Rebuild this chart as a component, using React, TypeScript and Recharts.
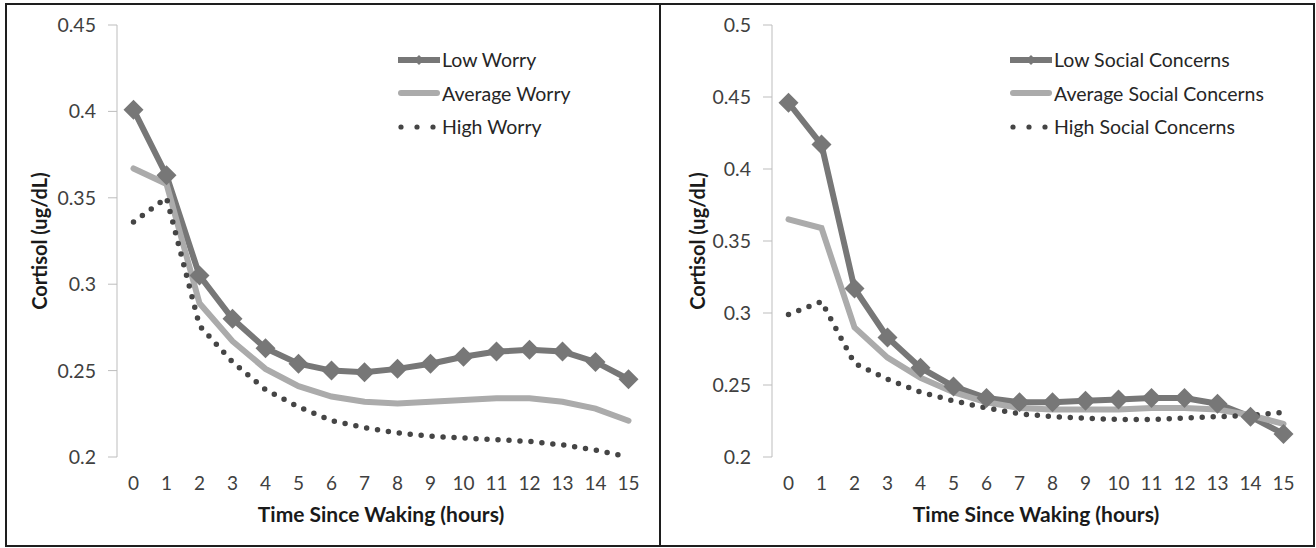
import { LineChart, Line, XAxis, YAxis, Legend } from "recharts";

const hours = [0, 1, 2, 3, 4, 5, 6, 7, 8, 9, 10, 11, 12, 13, 14, 15];

const lowWorry = [0.401, 0.363, 0.305, 0.28, 0.263, 0.254, 0.25, 0.249, 0.251, 0.254, 0.258, 0.261, 0.262, 0.261, 0.255, 0.245];
const avgWorry = [0.367, 0.358, 0.289, 0.267, 0.251, 0.241, 0.235, 0.232, 0.231, 0.232, 0.233, 0.234, 0.234, 0.232, 0.228, 0.221];
const highWorry = [0.336, 0.35, 0.276, 0.255, 0.239, 0.229, 0.221, 0.217, 0.214, 0.212, 0.211, 0.21, 0.209, 0.207, 0.204, 0.2];

const lowSocial = [0.446, 0.417, 0.317, 0.283, 0.262, 0.249, 0.241, 0.238, 0.238, 0.239, 0.24, 0.241, 0.241, 0.237, 0.228, 0.216];
const avgSocial = [0.365, 0.359, 0.29, 0.269, 0.255, 0.245, 0.238, 0.234, 0.233, 0.233, 0.233, 0.234, 0.234, 0.233, 0.229, 0.223];
const highSocial = [0.299, 0.308, 0.265, 0.254, 0.245, 0.239, 0.234, 0.23, 0.228, 0.227, 0.226, 0.226, 0.227, 0.228, 0.229, 0.231];

const worryTicks = [0.2, 0.25, 0.3, 0.35, 0.4, 0.45];
const socialTicks = [0.2, 0.25, 0.3, 0.35, 0.4, 0.45, 0.5];

const LOW = "#777777";
const AVG = "#ababab";
const HIGH = "#454545";
const FONT = "Lato, 'Open Sans', sans-serif";

// tick marks sit between the hour categories, like Excel
const boundaries = [...hours.map((h) => h - 0.5), hours[hours.length - 1] + 0.5];

function renderDiamond(props: any) {
  const { cx, cy, index } = props;
  if (cx == null || cy == null) return <g key={`d-${index}`} />;
  const r = 10;
  return (
    <polygon
      key={`d-${index}`}
      points={`${cx},${cy - r} ${cx + r},${cy} ${cx},${cy + r} ${cx - r},${cy}`}
      fill={LOW}
    />
  );
}

function LegendBox({ labels }: { labels: string[] }) {
  const rowH = 33.5;
  return (
    <div style={{ fontFamily: FONT, fontSize: 19.5, color: "#262626" }}>
      {labels.map((label, i) => (
        <div key={label} style={{ height: rowH, display: "flex", alignItems: "center" }}>
          <svg width={44} height={16} style={{ marginRight: 0 }}>
            {i === 0 && (
              <g>
                <line x1={0} y1={8} x2={42} y2={8} stroke={LOW} strokeWidth={6} />
                <polygon points="21,3 26,8 21,13 16,8" fill={LOW} />
              </g>
            )}
            {i === 1 && (
              <line x1={3} y1={8} x2={39} y2={8} stroke={AVG} strokeWidth={6} strokeLinecap="round" />
            )}
            {i === 2 && (
              <g fill={HIGH}>
                <circle cx={3} cy={8} r={2.6} />
                <circle cx={19} cy={8} r={2.6} />
                <circle cx={35} cy={8} r={2.6} />
              </g>
            )}
          </svg>
          <span>{label}</span>
        </div>
      ))}
    </div>
  );
}

type PanelProps = {
  low: number[];
  avg: number[];
  high: number[];
  labels: string[];
  yTicks: number[];
  yAxisWidth: number;
  marginRight: number;
  legendLeft: number;
  left: number;
};

function Panel(p: PanelProps) {
  const data = hours.map((h, i) => ({ hour: h, low: p.low[i], avg: p.avg[i], high: p.high[i] }));
  const yMin = p.yTicks[0];
  const yMax = p.yTicks[p.yTicks.length - 1];
  return (
    <div style={{ position: "absolute", left: p.left, top: 0 }}>
      <LineChart
        width={658}
        height={548}
        data={data}
        margin={{ top: 25, right: p.marginRight, left: 30, bottom: 21 }}
        style={{ fontFamily: FONT }}
      >
        <XAxis
          xAxisId="marks"
          dataKey="hour"
          type="number"
          domain={[-0.5, 15.5]}
          ticks={boundaries}
          interval={0}
          tick={false}
          tickSize={7}
          height={0}
          stroke="#bdbdbd"
          tickLine={{ stroke: "#bdbdbd" }}
        />
        <XAxis
          xAxisId="hours"
          dataKey="hour"
          type="number"
          domain={[-0.5, 15.5]}
          ticks={hours}
          interval={0}
          axisLine={false}
          tickLine={false}
          tickSize={0}
          tickMargin={20}
          height={70}
          tick={{ fontSize: 19, fill: "#404040", fontFamily: FONT }}
          label={{
            value: "Time Since Waking (hours)",
            position: "insideBottom",
            offset: 5,
            style: { fontSize: 21, fontWeight: 700, fill: "#1a1a1a", fontFamily: FONT },
          }}
        />
        <YAxis
          type="number"
          domain={[yMin, yMax]}
          ticks={p.yTicks}
          interval={0}
          width={p.yAxisWidth}
          stroke="#bdbdbd"
          tickSize={9}
          tickMargin={12}
          tickFormatter={(v: number) => String(Number(v.toFixed(2)))}
          tick={{ fontSize: 19.5, fill: "#404040", fontFamily: FONT }}
          label={{
            value: "Cortisol (ug/dL)",
            angle: -90,
            position: "insideLeft",
            offset: 10,
            style: { textAnchor: "middle", fontSize: 20, fontWeight: 700, fill: "#1a1a1a", fontFamily: FONT },
          }}
        />
        <Legend
          layout="horizontal"
          verticalAlign="middle"
          align="center"
          wrapperStyle={{ left: p.legendLeft, top: 43, width: "auto" }}
          content={() => <LegendBox labels={p.labels} />}
        />
        <Line
          xAxisId="hours"
          dataKey="low"
          name={p.labels[0]}
          type="linear"
          stroke={LOW}
          strokeWidth={6}
          dot={renderDiamond}
          activeDot={false}
          isAnimationActive={false}
        />
        <Line
          xAxisId="hours"
          dataKey="avg"
          name={p.labels[1]}
          type="linear"
          stroke={AVG}
          strokeWidth={6}
          strokeLinecap="round"
          dot={false}
          activeDot={false}
          isAnimationActive={false}
        />
        <Line
          xAxisId="hours"
          dataKey="high"
          name={p.labels[2]}
          type="linear"
          stroke={HIGH}
          strokeWidth={5.5}
          strokeDasharray="0 11"
          strokeLinecap="round"
          dot={false}
          activeDot={false}
          isAnimationActive={false}
        />
      </LineChart>
    </div>
  );
}

export default function App() {
  const frame = {
    position: "absolute" as const,
    top: 3,
    width: 656,
    height: 544,
    border: "2px solid #1e1e1e",
    boxSizing: "border-box" as const,
  };
  return (
    <div style={{ position: "absolute", left: 0, top: 0, width: 1316, height: 548, background: "#fff" }}>
      <div style={{ ...frame, left: 5 }} />
      <div style={{ ...frame, left: 659 }} />
      <Panel
        left={0}
        low={lowWorry}
        avg={avgWorry}
        high={highWorry}
        labels={["Low Worry", "Average Worry", "High Worry"]}
        yTicks={worryTicks}
        yAxisWidth={87}
        marginRight={13}
        legendLeft={398}
      />
      <Panel
        left={658}
        low={lowSocial}
        avg={avgSocial}
        high={highSocial}
        labels={["Low Social Concerns", "Average Social Concerns", "High Social Concerns"]}
        yTicks={socialTicks}
        yAxisWidth={84}
        marginRight={16}
        legendLeft={352}
      />
    </div>
  );
}
